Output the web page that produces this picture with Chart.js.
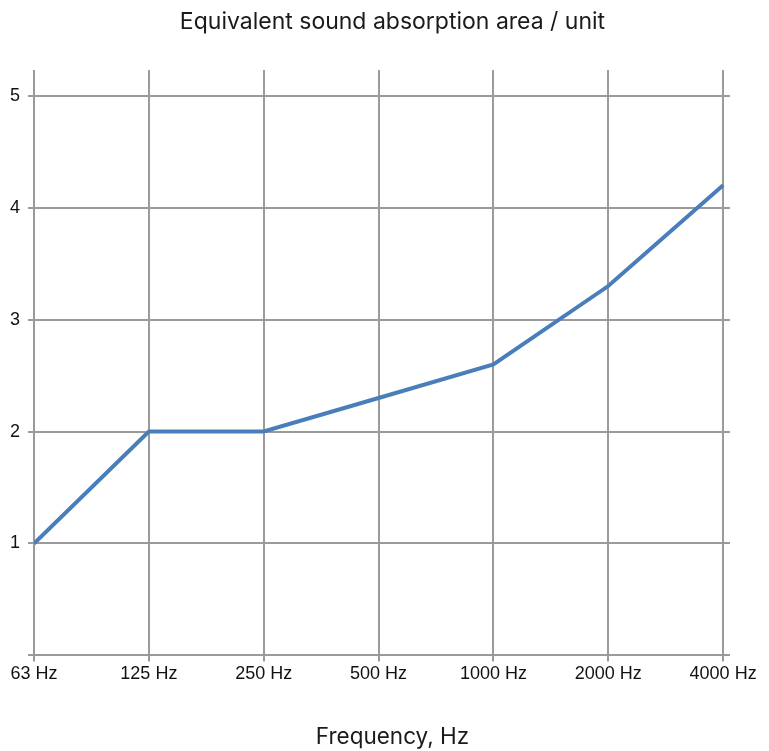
<!DOCTYPE html>
<html>
<head>
<meta charset="utf-8">
<script src="https://cdn.jsdelivr.net/npm/chart.js@4"></script>
<style>
  html, body { margin: 0; padding: 0; background: #fff; }
  #wrap { width: 769px; height: 751px; }
</style>
</head>
<body>
<div id="wrap"><canvas id="chart"></canvas></div>
<script>
// Frequency bands along the bottom
const bands = ["63 Hz", "125 Hz", "250 Hz", "500 Hz", "1000 Hz", "2000 Hz", "4000 Hz"];
// Equivalent sound absorption area per unit
const absorption = [1, 2, 2, 2.3, 2.6, 3.3, 4.2];
const yTicks = [1, 2, 3, 4, 5];

const gridColor = "#9a9a9a";
const tickFont = { family: "Liberation Sans", size: 18 };

// Titles sit a bit right of the plot centre, so draw them ourselves
const titlesPlugin = {
  id: "titlesPlugin",
  afterDraw(chart) {
    const c = chart.ctx;
    const cx = chart.width / 2 + 8;
    c.save();
    c.fillStyle = "#1a1a1a";
    c.textAlign = "center";
    c.textBaseline = "middle";
    c.font = "23px Inter";
    c.fillText("Equivalent sound absorption area / unit", cx, 22);
    c.font = "22.5px Inter";
    c.fillText("Frequency, Hz", cx, chart.height - 14);
    c.restore();
  },
};

const ctx = document.getElementById("chart");

new Chart(ctx, {
  type: "line",
  data: {
    datasets: [
      {
        label: "Equivalent sound absorption area",
        data: absorption.map((v, i) => ({ x: i, y: v })),
        borderColor: "#4a7ebb",
        borderWidth: 4,
        pointRadius: 0,
        tension: 0,
        fill: false,
      },
    ],
  },
  plugins: [titlesPlugin],
  options: {
    responsive: true,
    maintainAspectRatio: false,
    animation: false,
    layout: { padding: { left: 2, right: 39, top: 70, bottom: 64 } },
    plugins: {
      legend: { display: false },
      tooltip: { enabled: false },
      title: { display: false },
    },
    scales: {
      x: {
        type: "linear",
        min: 0,
        max: 6.06,
        border: { display: false },
        grid: { color: gridColor, lineWidth: 2, tickLength: 6 },
        ticks: {
          stepSize: 1,
          includeBounds: false,
          autoSkip: false,
          maxRotation: 0,
          color: "#111",
          font: tickFont,
          padding: 2,
          callback: (v) => bands[v] ?? "",
        },
      },
      y: {
        min: 0,
        max: 5.23,
        border: { display: false },
        grid: { color: gridColor, lineWidth: 2, tickLength: 6 },
        ticks: {
          stepSize: 1,
          includeBounds: false,
          color: "#111",
          font: tickFont,
          padding: 8,
          callback: (v) => (yTicks.includes(v) ? v : ""),
        },
      },
    },
  },
});
</script>
</body>
</html>
